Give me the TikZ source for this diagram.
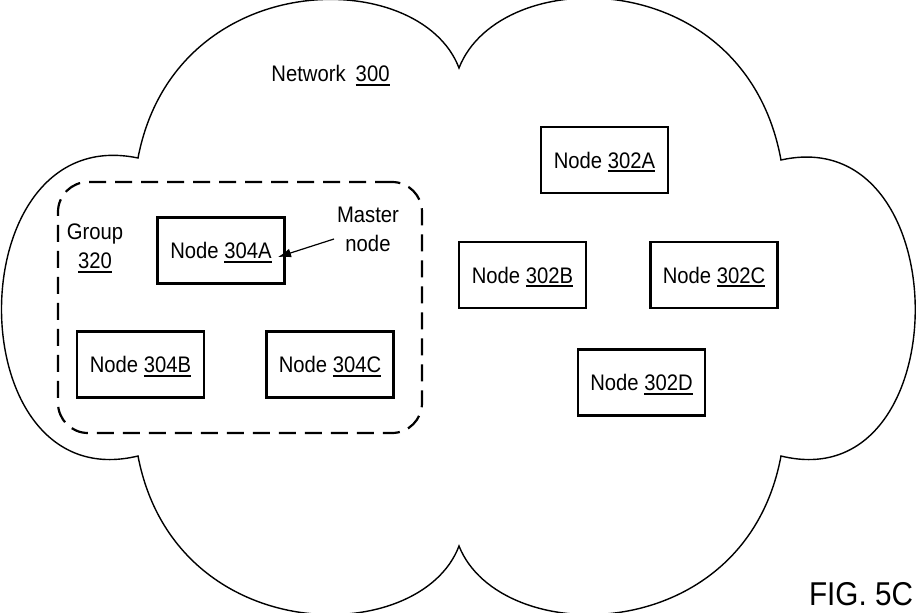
\documentclass[tikz,border=0pt]{standalone}
\usepackage{fontspec}
\setmainfont{Liberation Sans}[FakeStretch=0.9]
\usetikzlibrary{arrows.meta}
\newcommand\myul[1]{\setbox0\hbox{#1}\rlap{\rule[-4pt]{\wd0}{1.8pt}}\box0}
\begin{document}
\begin{tikzpicture}[x=1pt,y=-1pt,
  box/.style={draw, line width=2.2pt, minimum width=127pt, minimum height=66pt, inner sep=0pt,
    font=\fontsize{22.5}{27}\selectfont, text height=16pt, text depth=0pt},
  lbl/.style={inner sep=0pt, font=\fontsize{22.5}{29}\selectfont, align=center},
  grpbox/.style={draw, line width=2.2pt, dash pattern=on 17pt off 9pt, rounded corners=30pt,
    minimum width=364pt, minimum height=251pt, inner sep=0pt}]
\useasboundingbox (0,0) rectangle (916,613);
% cloud
\draw[line width=1.4pt] (138,158) .. controls (175,-35) and (420,-35) .. (459,68)
  .. controls (500,-37) and (745,-37) .. (781,160)
  .. controls (960,120) and (960,500) .. (781,456)
  .. controls (745,649) and (500,649) .. (459,546)
  .. controls (420,649) and (175,649) .. (138,456)
  .. controls (-44,500) and (-44,120) .. cycle;
\node[lbl, text height=16pt, text depth=0pt] (net) at (330.5,73.6) {Network\hspace{10pt}\myul{300}};
% group
\node[grpbox] (grp) at (240,307.5) {};
\node[lbl, anchor=north] (glbl) at (95,224) {Group\\\myul{320}};
% nodes
\node[box] (n302a) at (604.5,160) {Node \myul{302A}};
\node[box] (n302b) at (522.5,275) {Node \myul{302B}};
\node[box] (n302c) at (714,275) {Node \myul{302C}};
\node[box] (n302d) at (641.5,382.5) {Node \myul{302D}};
\node[box] (n304a) at (221,250.5) {Node \myul{304A}};
\node[box] (n304b) at (140.5,364.5) {Node \myul{304B}};
\node[box] (n304c) at (330,364.5) {Node \myul{304C}};
% master node label and arrow
\node[lbl, anchor=north] (master) at (368,207) {Master\\node};
\coordinate (mtail) at (334,239);
\coordinate (mtip) at (278,257);
\draw[line width=1.2pt, -{Latex[length=13pt,width=9pt]}] (mtail) -- (mtip);
\node[inner sep=0pt, font=\fontsize{33}{36}\selectfont, text height=23.6pt, text depth=0pt] (fig) at (861,593.5) {FIG. 5C};
\end{tikzpicture}
\end{document}
